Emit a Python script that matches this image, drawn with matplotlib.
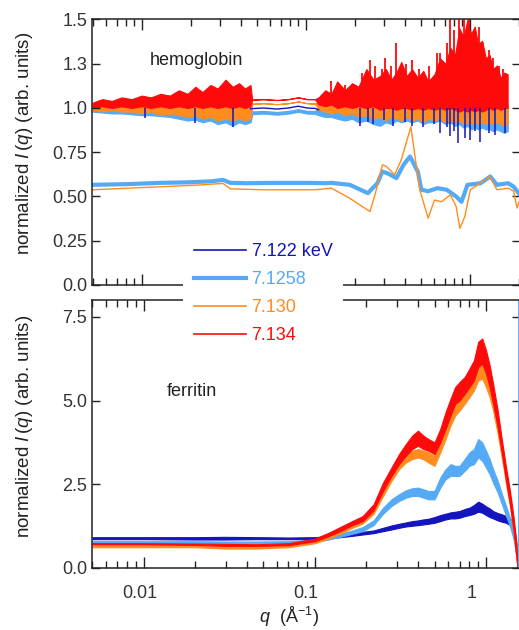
import matplotlib.pyplot as plt
from matplotlib.transforms import ScaledTranslation

plt.rcParams['font.family'] = ['Liberation Sans', 'DejaVu Sans']
plt.rcParams['mathtext.fontset'] = 'custom'
plt.rcParams['mathtext.it'] = 'Liberation Sans:italic'
plt.rcParams['mathtext.rm'] = 'Liberation Sans'

# ---------------- hemoglobin (top panel): noise envelopes ----------------
q_hb = [0.005, 0.00572, 0.00656, 0.00751, 0.00868, 0.00996, 0.01135, 0.01298, 0.01482, 0.01678,
        0.01897, 0.02118, 0.02339, 0.02617, 0.02897, 0.03234, 0.0357, 0.0391, 0.0425, 0.0459,
        0.0470, 0.0551, 0.0666, 0.0782, 0.0898, 0.1016, 0.1134,
        0.1194, 0.1312, 0.1431, 0.1551, 0.1731, 0.1912, 0.2093, 0.2336, 0.2580, 0.2825,
        0.3071, 0.3318, 0.3564, 0.3814, 0.4123, 0.4436, 0.4812, 0.519, 0.5566, 0.6075,
        0.658, 0.709, 0.760, 0.811, 0.863, 0.914, 0.966, 1.018, 1.070, 1.122,
        1.186, 1.2515, 1.317, 1.382, 1.461, 1.540, 1.619, 1.698]

hb_red_hi = [1.03, 1.05, 1.04, 1.06, 1.05, 1.07, 1.06, 1.08, 1.07, 1.10,
             1.08, 1.12, 1.09, 1.13, 1.11, 1.16, 1.12, 1.14, 1.11, 1.13,
             1.047, 1.05, 1.045, 1.05, 1.06, 1.05, 1.05,
             1.06, 1.10, 1.08, 1.15, 1.10, 1.14, 1.12, 1.22, 1.16, 1.18,
             1.22, 1.16, 1.20, 1.26, 1.18, 1.22, 1.17, 1.21, 1.15, 1.19,
             1.28, 1.25, 1.34, 1.30, 1.45, 1.40, 1.50, 1.42, 1.46, 1.36,
             1.38, 1.28, 1.30, 1.22, 1.24, 1.17, 1.20, 1.19]
hb_red_lo = [1.00, 1.01, 1.00, 1.01, 1.00, 1.01, 1.00, 1.01, 1.00, 1.01,
             1.00, 1.01, 1.00, 1.01, 1.00, 1.01, 1.00, 1.01, 1.00, 1.01,
             1.047, 1.05, 1.045, 1.05, 1.06, 1.05, 1.05,
             1.02, 1.01, 1.02, 1.00, 1.01, 1.00, 1.01, 1.00, 1.01, 0.99,
             1.00, 1.00, 0.99, 1.00, 1.00, 0.99, 1.00, 0.99, 1.00, 0.99,
             1.00, 0.99, 1.00, 0.99, 0.98, 0.99, 0.98, 0.99, 0.98, 0.99,
             0.98, 0.99, 1.00, 0.99, 1.00, 0.99, 1.00, 1.00]
# isolated red spikes above the band
q_hb_red_spk = [0.142, 0.172, 0.22, 0.245, 0.262, 0.29, 0.305, 0.33, 0.352, 0.38, 0.405,
                0.445, 0.49, 0.56, 0.63, 0.66, 0.72, 0.76, 0.80, 0.86, 0.92, 0.99, 1.05,
                1.13, 1.20, 1.30, 1.38, 1.50, 1.60]
hb_red_spk = [1.15, 1.13, 1.20, 1.27, 1.24, 1.22, 1.28, 1.24, 1.37, 1.22, 1.25,
              1.27, 1.22, 1.24, 1.31, 1.31, 1.37, 1.50, 1.44, 1.50, 1.50, 1.50, 1.42,
              1.46, 1.37, 1.33, 1.28, 1.24, 1.22]

hb_orange_hi = [1.02, 1.03, 1.02, 1.03, 1.02, 1.03, 1.02, 1.03, 1.02, 1.04,
                1.03, 1.05, 1.03, 1.05, 1.04, 1.06, 1.04, 1.05, 1.04, 1.05,
                1.024, 1.027, 1.022, 1.027, 1.037, 1.027, 1.025,
                1.04, 1.06, 1.05, 1.08, 1.06, 1.08, 1.07, 1.10, 1.08, 1.12,
                1.10, 1.12, 1.15, 1.10, 1.12, 1.14, 1.10, 1.12, 1.10, 1.12,
                1.14, 1.12, 1.15, 1.12, 1.15, 1.12, 1.14, 1.12, 1.13, 1.12,
                1.12, 1.10, 1.10, 1.08, 1.06, 1.05, 1.04, 1.02]
hb_orange_lo = [0.99, 0.98, 0.99, 0.98, 0.98, 0.97, 0.98, 0.96, 0.97, 0.96,
                0.95, 0.96, 0.94, 0.95, 0.93, 0.94, 0.93, 0.94, 0.93, 0.94,
                1.024, 1.027, 1.022, 1.027, 1.037, 1.027, 1.025,
                0.99, 0.98, 0.97, 0.98, 0.96, 0.97, 0.95, 0.96, 0.94, 0.95,
                0.93, 0.95, 0.94, 0.93, 0.95, 0.93, 0.94, 0.92, 0.94, 0.93,
                0.94, 0.92, 0.93, 0.92, 0.93, 0.91, 0.92, 0.91, 0.92, 0.91,
                0.92, 0.91, 0.92, 0.91, 0.92, 0.91, 0.90, 0.91]

hb_ltblue_hi = [1.00, 1.00, 1.00, 1.00, 1.00, 1.00, 1.00, 1.00, 1.00, 1.00,
                1.00, 1.00, 1.00, 1.00, 1.00, 1.00, 1.00, 1.00, 1.00, 1.00,
                0.980, 0.983, 0.977, 0.983, 0.993, 0.983, 0.982,
                1.00, 1.01, 1.00, 1.02, 1.01, 1.03, 1.02, 1.04, 1.03, 1.05,
                1.04, 1.05, 1.06, 1.04, 1.05, 1.06, 1.05, 1.06, 1.04, 1.05,
                1.06, 1.05, 1.07, 1.06, 1.08, 1.07, 1.08, 1.06, 1.07, 1.06,
                1.06, 1.05, 1.05, 1.04, 1.03, 1.02, 1.01, 1.00]
hb_ltblue_lo = [0.98, 0.975, 0.97, 0.97, 0.965, 0.96, 0.96, 0.955, 0.95, 0.94,
                0.93, 0.935, 0.92, 0.93, 0.91, 0.92, 0.90, 0.92, 0.91, 0.92,
                0.966, 0.969, 0.963, 0.969, 0.979, 0.969, 0.968,
                0.96, 0.95, 0.95, 0.94, 0.93, 0.94, 0.92, 0.93, 0.91, 0.90,
                0.92, 0.91, 0.93, 0.92, 0.93, 0.92, 0.93, 0.91, 0.92, 0.92,
                0.93, 0.91, 0.92, 0.90, 0.91, 0.89, 0.90, 0.88, 0.89, 0.88,
                0.89, 0.88, 0.88, 0.87, 0.88, 0.87, 0.86, 0.87]

# dark blue: thin line in the smooth stretch, otherwise only its downward spikes show
q_hb_dk = [0.0459, 0.0551, 0.0666, 0.0782, 0.0898, 0.1016, 0.1134, 0.1194]
hb_dkblue_mid = [0.996, 1.000, 0.994, 1.000, 1.010, 1.000, 0.998, 0.99]
q_hb_dk_spk = [0.0105, 0.021, 0.036, 0.213, 0.24, 0.256, 0.30, 0.339, 0.40, 0.443,
               0.52, 0.60, 0.66, 0.72, 0.755, 0.80, 0.845, 0.93, 1.0, 1.08, 1.151,
               1.30, 1.42, 1.63]
hb_dk_spk = [0.945, 0.915, 0.895, 0.90, 0.92, 0.91, 0.93, 0.90, 0.92, 0.90,
             0.89, 0.91, 0.86, 0.89, 0.84, 0.87, 0.80, 0.83, 0.82, 0.87, 0.81,
             0.86, 0.85, 0.86]

# lower (smooth) hemoglobin curves
q_hb_lb = [0.005, 0.00819, 0.01287, 0.01897, 0.02673, 0.0312, 0.0346, 0.0436, 0.0666, 0.1016,
           0.1312, 0.1431, 0.1851, 0.2385, 0.2728, 0.2924, 0.3159, 0.3564, 0.3937, 0.4313,
           0.4812, 0.5065, 0.5566, 0.6328, 0.7216, 0.824, 0.8885, 0.966, 1.160, 1.330,
           1.461, 1.712, 1.844, 1.977]
hb_ltblue_low = [0.566, 0.570, 0.577, 0.580, 0.586, 0.594, 0.577, 0.575, 0.577, 0.577,
                 0.575, 0.577, 0.566, 0.519, 0.575, 0.641, 0.630, 0.604, 0.679, 0.726,
                 0.640, 0.538, 0.530, 0.547, 0.538, 0.500, 0.470, 0.566, 0.575, 0.613,
                 0.566, 0.575, 0.556, 0.520]
q_hb_or = [0.005, 0.01287, 0.02339, 0.0312, 0.0346, 0.0551, 0.1134, 0.1431, 0.1851, 0.2459,
           0.2656, 0.2924, 0.3094, 0.3478, 0.3814, 0.4364, 0.494, 0.5566, 0.6075, 0.6705,
           0.760, 0.824, 0.869, 0.931, 1.005, 1.323, 1.461, 1.712, 1.844, 1.937,
           1.99]
hb_orange_low = [0.538, 0.555, 0.566, 0.574, 0.543, 0.538, 0.538, 0.547, 0.490, 0.415,
                 0.520, 0.679, 0.670, 0.623, 0.707, 0.894, 0.538, 0.377, 0.480, 0.470,
                 0.510, 0.443, 0.320, 0.387, 0.538, 0.613, 0.538, 0.547, 0.530, 0.435,
                 0.470]

# ---------------- ferritin (bottom panel) ----------------
q_fe = [0.005, 0.01, 0.02, 0.03, 0.045, 0.07, 0.1, 0.12, 0.14, 0.165,
        0.19, 0.22, 0.25, 0.28, 0.31, 0.34, 0.37, 0.40, 0.43, 0.46,
        0.50, 0.54, 0.58, 0.62, 0.66, 0.70, 0.75, 0.80, 0.85, 0.90,
        0.95, 1.0, 1.05, 1.10, 1.17, 1.24, 1.31, 1.38, 1.45, 1.50, 1.53]

fe_red_lo = [0.70, 0.70, 0.69, 0.66, 0.66, 0.68, 0.80, 0.95, 1.10, 1.28,
             1.40, 1.72, 2.30, 2.75, 3.10, 3.35, 3.55, 3.65, 3.55, 3.50,
             3.40, 3.75, 4.15, 4.55, 4.90, 5.00, 5.20, 5.40, 5.60, 6.00,
             6.10, 5.80, 5.40, 4.90, 4.20, 3.40, 2.60, 1.90, 1.10, 0.40, 0.00]
fe_red_hi = [0.74, 0.74, 0.73, 0.72, 0.71, 0.74, 0.88, 1.05, 1.22, 1.40,
             1.55, 1.90, 2.55, 3.00, 3.40, 3.70, 3.95, 4.10, 3.95, 3.85,
             3.75, 4.15, 4.65, 5.05, 5.40, 5.55, 5.70, 5.95, 6.20, 6.75,
             6.85, 6.50, 6.05, 5.50, 4.70, 3.80, 3.00, 2.30, 1.50, 0.80, 0.10]

fe_orange_lo = [0.62, 0.62, 0.62, 0.58, 0.58, 0.62, 0.74, 0.88, 1.02, 1.20,
                1.33, 1.62, 2.15, 2.60, 2.95, 3.15, 3.25, 3.30, 3.25, 3.15,
                3.05, 3.45, 3.85, 4.25, 4.55, 4.70, 4.90, 5.10, 5.30, 5.60,
                5.65, 5.40, 5.10, 4.70, 4.00, 3.25, 2.50, 1.85, 1.05, 0.40, 0.00]
fe_orange_hi = [0.66, 0.66, 0.66, 0.64, 0.64, 0.68, 0.80, 0.96, 1.12, 1.32,
                1.45, 1.78, 2.35, 2.85, 3.20, 3.40, 3.50, 3.55, 3.50, 3.45,
                3.35, 3.80, 4.25, 4.65, 4.95, 5.10, 5.30, 5.55, 5.75, 6.10,
                6.15, 5.90, 5.55, 5.10, 4.40, 3.60, 2.85, 2.15, 1.40, 0.75, 0.10]

fe_ltblue_lo = [0.75, 0.75, 0.75, 0.74, 0.74, 0.74, 0.78, 0.85, 0.93, 1.02,
                1.10, 1.28, 1.62, 1.85, 2.00, 2.10, 2.15, 2.15, 2.10, 2.05,
                2.05, 2.40, 2.65, 2.75, 2.75, 2.75, 2.90, 3.05, 3.10, 3.30,
                3.20, 3.00, 2.80, 2.55, 2.25, 1.90, 1.55, 1.25, 0.85, 0.40, 0.00]
fe_ltblue_hi = [0.80, 0.80, 0.80, 0.79, 0.79, 0.80, 0.84, 0.92, 1.02, 1.12,
                1.22, 1.42, 1.80, 2.05, 2.20, 2.32, 2.38, 2.40, 2.35, 2.30,
                2.30, 2.70, 2.95, 3.10, 3.05, 3.05, 3.25, 3.45, 3.55, 3.85,
                3.75, 3.50, 3.25, 2.95, 2.60, 2.20, 1.85, 1.50, 1.15, 0.70, 0.10]
fe_ltblue_edge_q = 1.555
fe_ltblue_edge_val = 9.0

fe_dkblue_lo = [0.86, 0.86, 0.85, 0.85, 0.86, 0.86, 0.86, 0.88, 0.92, 0.96,
                1.00, 1.04, 1.10, 1.15, 1.20, 1.24, 1.26, 1.28, 1.30, 1.32,
                1.35, 1.40, 1.45, 1.48, 1.48, 1.50, 1.55, 1.58, 1.62, 1.68,
                1.65, 1.58, 1.52, 1.48, 1.42, 1.38, 1.35, 1.28, 1.10, 0.40, 0.00]
fe_dkblue_hi = [0.92, 0.92, 0.92, 0.93, 0.92, 0.91, 0.92, 0.95, 0.99, 1.04,
                1.08, 1.12, 1.20, 1.27, 1.32, 1.36, 1.40, 1.42, 1.45, 1.47,
                1.52, 1.58, 1.62, 1.66, 1.68, 1.70, 1.76, 1.80, 1.88, 1.98,
                1.92, 1.84, 1.78, 1.70, 1.64, 1.60, 1.55, 1.48, 1.35, 0.80, 0.10]

energies = ["7.122 keV", "7.1258", "7.130", "7.134"]
c_dkblue, c_ltblue, c_orange, c_red = "#1414be", "#55aaf5", "#ff8c1e", "#ff0a0a"

fig = plt.figure(figsize=(5.19, 6.30), dpi=100)
ax1 = fig.add_axes([92 / 519, 1 - 285 / 630, 428 / 519, 265.5 / 630])
ax2 = fig.add_axes([92 / 519, 1 - 568 / 630, 428 / 519, 268 / 630])

# top panel
ax1.vlines(q_hb_dk_spk, hb_dk_spk, 1.0, color=c_dkblue, lw=1.1)
ax1.plot(q_hb_dk, hb_dkblue_mid, color=c_dkblue, lw=1.0)
ax1.fill_between(q_hb, hb_ltblue_lo, hb_ltblue_hi, color=c_ltblue, edgecolor=c_ltblue, lw=1.0)
ax1.fill_between(q_hb, hb_orange_lo, hb_orange_hi, color=c_orange, edgecolor=c_orange, lw=0.8)
ax1.vlines(q_hb_red_spk, 1.05, hb_red_spk, color=c_red, lw=1.3)
ax1.fill_between(q_hb, hb_red_lo, hb_red_hi, color=c_red, edgecolor=c_red, lw=0.8)
ax1.plot(q_hb_lb, hb_ltblue_low, color=c_ltblue, lw=3)
ax1.plot(q_hb_or, hb_orange_low, color=c_orange, lw=1)

# bottom panel
for lo, hi, c in [(fe_dkblue_lo, fe_dkblue_hi, c_dkblue),
                  (fe_ltblue_lo, fe_ltblue_hi, c_ltblue),
                  (fe_orange_lo, fe_orange_hi, c_orange),
                  (fe_red_lo, fe_red_hi, c_red)]:
    ax2.fill_between(q_fe, lo, hi, color=c, edgecolor=c, lw=0.8)
ax2.vlines(fe_ltblue_edge_q, 0, fe_ltblue_edge_val, color=c_ltblue, lw=2)

for ax in (ax1, ax2):
    ax.set_xscale('log')
    for s in ax.spines.values():
        s.set_color('#222222')
        s.set_linewidth(1.1)
    ax.tick_params(which='both', direction='in', top=True, right=True,
                   labelsize=13, colors='#222222', labelcolor='#333333', width=1.0)
    ax.tick_params(axis='x', which='major', length=8)
    ax.tick_params(axis='x', which='minor', length=5)
    ax.tick_params(axis='y', which='major', length=6)
    ax.yaxis.set_minor_locator(plt.NullLocator())
ax1.set_xlim(0.00496, 2.02)
ax2.set_xlim(0.00497, 1.58)

ax1.set_ylim(0, 1.5)
ax1.set_yticks([0, 0.25, 0.5, 0.75, 1.0, 1.25, 1.5])
ax1.set_yticklabels(["0.0", "0.25", "0.50", "0.75", "1.0", "1.3", "1.5"])
ax1.tick_params(axis='x', which='both', labelbottom=False)

ax2.set_ylim(0, 8.0)
ax2.set_yticks([0, 2.5, 5.0, 7.5])
ax2.set_yticklabels(["0.0", "2.5", "5.0", "7.5"])
ax2.set_xticks([0.01, 0.1, 1])
ax2.set_xticklabels(["0.01", "0.1", "1"])
ax2.tick_params(axis='x', which='major', pad=12)

ax1.text(0.243, 0.847, "hemoglobin", transform=ax1.transAxes, fontsize=13,
         ha='center', va='center', color='#222222')
ax2.text(0.234, 0.657, "ferritin", transform=ax2.transAxes, fontsize=13,
         ha='center', va='center', color='#222222')

ylab = r"normalized $\mathit{I}\,(q)$ (arb. units)"
fig.text(25 / 519, 1 - 143 / 630, ylab, rotation=90, ha='center', va='center',
         fontsize=13.5, color='#222222')
fig.text(25 / 519, 1 - 426 / 630, ylab, rotation=90, ha='center', va='center',
         fontsize=13.5, color='#222222')
fig.text(289 / 519, 1 - 617 / 630, r"$q$  (Å$^{-1}$)", ha='center', va='center',
         fontsize=13, color='#222222')

handles = [plt.Line2D([], [], color=c_dkblue, lw=1.2),
           plt.Line2D([], [], color=c_ltblue, lw=3),
           plt.Line2D([], [], color=c_orange, lw=1.2),
           plt.Line2D([], [], color=c_red, lw=1.2)]
leg = fig.legend(handles, energies, loc='upper left', bbox_to_anchor=(183 / 519, 1 - 232 / 630),
                 fontsize=13, frameon=True, facecolor='white', edgecolor='none', framealpha=1,
                 handlelength=2.9, handletextpad=0.3, labelspacing=0.62, borderpad=0.6,
                 borderaxespad=0, labelcolor='linecolor')
leg.get_frame().set_linewidth(0)

# the reference's bottom tick labels sit a little left of their ticks
fig.canvas.draw()
for lab, dx in zip(ax2.xaxis.get_majorticklabels(), [-4, -9, -14]):
    lab.set_transform(lab.get_transform() + ScaledTranslation(dx / 100, 0, fig.dpi_scale_trans))

fig.savefig("out.png", dpi=100, facecolor='white')
